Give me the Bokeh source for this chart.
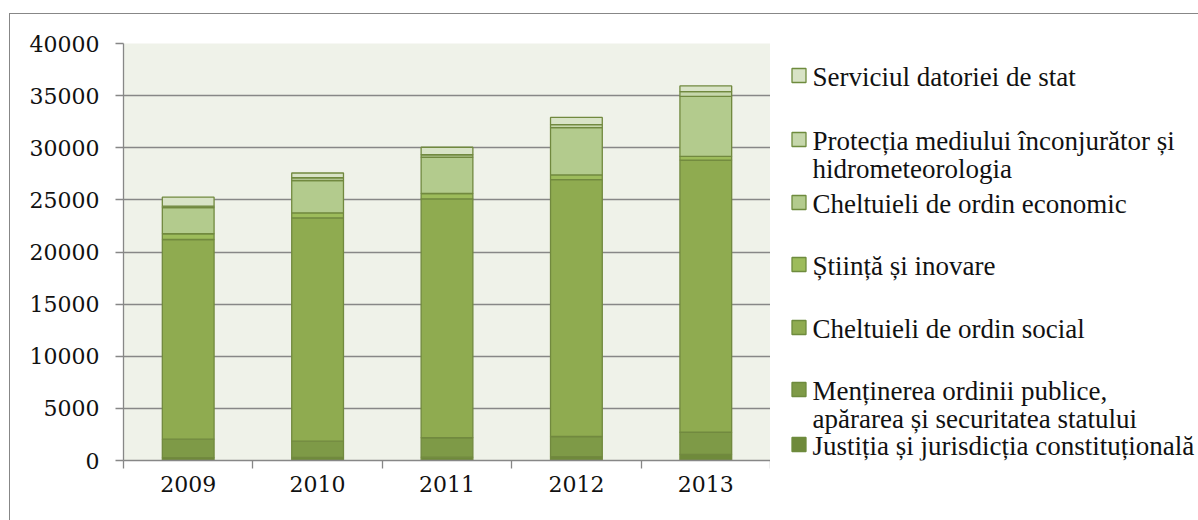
from bokeh.plotting import figure
from bokeh.layouts import row
from bokeh.models import Range1d, FixedTicker, LinearAxis, ColumnDataSource
from bokeh.core.properties import value
from bokeh.embed import file_html
from bokeh.resources import INLINE

years = ["2009", "2010", "2011", "2012", "2013"]

# stacked from bottom to top
justitia   = [270, 300, 320, 380, 580]
mentinerea = [1780, 1550, 1860, 1920, 2130]
social     = [19150, 21430, 22920, 24640, 26110]
stiinta    = [550, 480, 510, 450, 350]
economic   = [2520, 3100, 3480, 4540, 5760]
protectia  = [130, 260, 240, 280, 450]
serviciul  = [860, 460, 720, 700, 550]

series_keys = ["justitia", "mentinerea", "social", "stiinta", "economic", "protectia", "serviciul"]
series_vals = [justitia, mentinerea, social, stiinta, economic, protectia, serviciul]
series_colors = ["#6F8A3B", "#7E9A47", "#8FAB50", "#9DBC5B", "#B3CB8D", "#C6D7AB", "#D8E3C6"]

# legend, top to bottom (lines of each entry)
legend_entries = [
    ("serviciul", ["Serviciul datoriei de stat"]),
    ("protectia", ["Protecția mediului înconjurător și", "hidrometeorologia"]),
    ("economic", ["Cheltuieli de ordin economic"]),
    ("stiinta", ["Știință și inovare"]),
    ("social", ["Cheltuieli de ordin social"]),
    ("mentinerea", ["Menținerea ordinii publice,", "apărarea și securitatea statului"]),
    ("justitia", ["Justiția și jurisdicția constituțională"]),
]

y_ticks = [0, 5000, 10000, 15000, 20000, 25000, 30000, 35000, 40000]

n = len(years)
centers = [i + 0.5 for i in range(n)]
data = {"x": centers, "year": years}
for k, v in zip(series_keys, series_vals):
    data[k] = v
source = ColumnDataSource(data)

axis_gray = "#878787"
tick_font = "DejaVu Serif"

# ---- main chart ----
MW, MH = 760, 506
BT, BB = 29, 60
p = figure(x_range=Range1d(0, n), y_range=Range1d(0, 40000),
           width=MW, height=MH, output_backend="svg", toolbar_location=None,
           x_axis_location=None,
           min_border_left=113, min_border_right=0, min_border_top=BT, min_border_bottom=BB)
p.background_fill_color = "#EFF2E9"
p.border_fill_color = "white"
p.outline_line_color = None
p.xgrid.visible = False

yax = p.yaxis[0]
yax.ticker = FixedTicker(ticks=y_ticks)
yax.minor_tick_line_color = None
yax.major_tick_in = 0
yax.major_tick_out = 8
yax.axis_line_color = axis_gray
yax.axis_line_width = 1.3
yax.major_tick_line_color = axis_gray
yax.major_tick_line_width = 1.3
yax.major_label_standoff = 16
yax.major_label_text_font = tick_font
yax.major_label_text_font_size = "22px"
yax.major_label_text_color = "#111111"

p.ygrid.ticker = FixedTicker(ticks=y_ticks)
p.ygrid.grid_line_color = axis_gray
p.ygrid.grid_line_width = 1.3

xax = LinearAxis(ticker=FixedTicker(ticks=centers, minor_ticks=list(range(n + 1))),
                 major_label_overrides={c: y for c, y in zip(centers, years)},
                 axis_line_color=axis_gray, axis_line_width=1.3,
                 major_tick_line_color=None, major_tick_in=0, major_tick_out=0,
                 minor_tick_line_color=axis_gray, minor_tick_line_width=1.3,
                 minor_tick_in=0, minor_tick_out=8,
                 major_label_standoff=7,
                 major_label_text_font=tick_font, major_label_text_font_size="22px",
                 major_label_text_color="#111111")
p.add_layout(xax, "below")

p.vbar_stack(series_keys, x="x", width=0.4, source=source,
             fill_color=series_colors, line_color="#71893F", line_width=1.3)

# ---- legend panel (coordinates in page pixels; its frame is aligned with the chart's frame) ----
LW = 428
lg = figure(x_range=Range1d(770, 770 + LW), y_range=Range1d(460, 43),
            width=LW, height=MH, output_backend="svg", toolbar_location=None,
            x_axis_location=None, y_axis_location=None,
            min_border_left=0, min_border_right=0, min_border_top=BT, min_border_bottom=BB)
lg.outline_line_color = None
lg.background_fill_color = "white"
lg.border_fill_color = "white"
lg.xgrid.visible = False
lg.ygrid.visible = False

color_of = dict(zip(series_keys, series_colors))
row_centers = [75, 139, 202, 264, 327, 389, 444]
sw_x, sw_y, sw_c = [], [], []
tx, ty, tt = [], [], []
for (key, lines), c in zip(legend_entries, row_centers):
    sw_x.append(798.5)
    sw_y.append(c)
    sw_c.append(color_of[key])
    for i, line in enumerate(lines):
        tx.append(812)
        ty.append(c + 1 + i * 28)
        tt.append(line)
lg.rect(x=sw_x, y=sw_y, width=14, height=14, fill_color=sw_c, line_color="#6E8B3D", line_width=1.3)
lg.text(x=tx, y=ty, text=tt, text_font=value("Liberation Serif"), text_font_size="27px",
        text_color="#111111", text_baseline="middle", text_align="left")

layout = row(p, lg, styles={"border-left": "1px solid #878787", "border-top": "1px solid #878787",
                            "margin-left": "9px", "margin-top": "13px"})

open("out.html", "w").write(file_html(layout, INLINE))
